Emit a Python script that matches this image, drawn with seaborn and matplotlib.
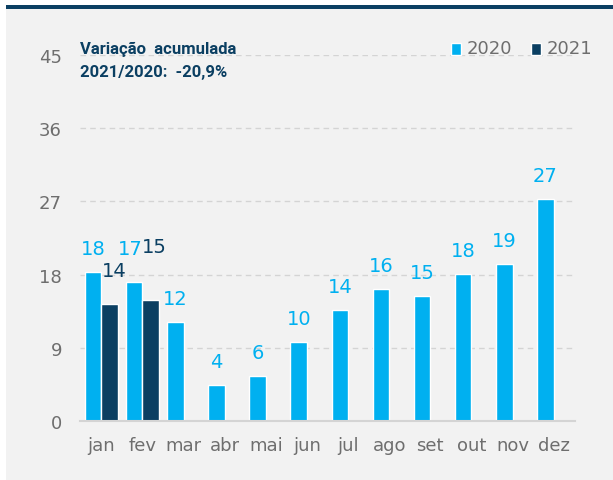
import pandas as pd
import matplotlib.pyplot as plt
import seaborn as sns
from matplotlib.patches import Rectangle

months = ["jan", "fev", "mar", "abr", "mai", "jun", "jul", "ago", "set", "out", "nov", "dez"]
values_2020 = [18.3, 17.1, 12.2, 4.4, 5.5, 9.7, 13.6, 16.2, 15.4, 18.1, 19.3, 27.3]
values_2021 = [14.4, 14.9] + [float("nan")] * 10
labels_2020 = ["18", "17", "12", "4", "6", "10", "14", "16", "15", "18", "19", "27"]
labels_2021 = ["14", "15"]
yticks = [0, 9, 18, 27, 36, 45]

C2020 = "#00b0f0"
C2021 = "#0b3f62"
GRAY = "#6e6e6e"
BG = "#f2f2f2"


def main():
    df = pd.DataFrame({
        "mes": months * 2,
        "ano": ["2020"] * 12 + ["2021"] * 12,
        "valor": values_2020 + values_2021,
    })

    sns.set_style("white")
    plt.rcParams["font.family"] = ["DejaVu Sans"]

    fig = plt.figure(figsize=(6.13, 4.81), dpi=100)
    fig.patch.set_facecolor("white")
    # painel cinza e linha escura no topo
    fig.patches.append(Rectangle((6 / 613, 0), 1, 1 - 10 / 481, transform=fig.transFigure,
                                 facecolor=BG, edgecolor="none", zorder=-2))
    fig.patches.append(Rectangle((6 / 613, 1 - 10 / 481), 1, 4 / 481, transform=fig.transFigure,
                                 facecolor="#0b3f62", edgecolor="none", zorder=-1))

    ax = fig.add_axes([80 / 613, 59 / 481, 495 / 613, 366 / 481])
    ax.set_facecolor("none")

    sns.barplot(data=df, x="mes", y="valor", hue="ano", order=months,
                hue_order=["2020", "2021"], palette=[C2020, C2021],
                width=0.8, ax=ax, legend=False, errorbar=None, saturation=1)

    # rótulos: deslocamentos extras (px) para evitar sobreposição em jan/fev
    extra_2020 = {1: 10}
    xshift_2020 = {1: -4}
    extra_2021 = {0: 10, 1: 30}
    xshift_2021 = {0: 5, 1: 4}
    c20, c21 = ax.containers[0], ax.containers[1]
    for i, bar in enumerate(c20):
        ax.annotate(labels_2020[i], (bar.get_x() + bar.get_width() / 2, bar.get_height()),
                    xytext=(xshift_2020.get(i, 0) * 0.72, (14 + extra_2020.get(i, 0)) * 0.72),
                    textcoords="offset points",
                    ha="center", va="bottom", color=C2020, fontsize=14)
    for i, lab in enumerate(labels_2021):
        bar = c21[i]
        ax.annotate(lab, (bar.get_x() + bar.get_width() / 2, bar.get_height()),
                    xytext=(xshift_2021.get(i, 0) * 0.72, (14 + extra_2021.get(i, 0)) * 0.72),
                    textcoords="offset points",
                    ha="center", va="bottom", color=C2021, fontsize=14)

    ax.set_ylim(0, 45)
    ax.set_xlim(-0.52, 11.52)
    ax.set_yticks(yticks)
    ax.yaxis.grid(True, linestyle=(0, (4, 3)), color="#d4d4d4", linewidth=1)
    ax.set_axisbelow(True)
    for s in ["top", "right", "left"]:
        ax.spines[s].set_visible(False)
    ax.spines["bottom"].set_color("#d4d4d4")
    ax.spines["bottom"].set_linewidth(1.5)
    ax.tick_params(axis="both", length=0, labelsize=13, colors=GRAY)
    ax.tick_params(axis="x", pad=11)
    ax.tick_params(axis="y", pad=13)
    ax.set_xlabel("")
    ax.set_ylabel("")

    fig.text(80 / 613, 1 - 49 / 481, "Variação  acumulada", family="Roboto",
             fontsize=12, fontweight="bold", color="#0b3f62", va="center")
    fig.text(80 / 613, 1 - 72 / 481, "2021/2020:  -20,9%", family="Roboto",
             fontsize=12, fontweight="bold", color="#0b3f62", va="center")

    # legenda
    fig.patches.append(Rectangle((451 / 613, 1 - 56 / 481), 10 / 613, 12 / 481,
                                 transform=fig.transFigure, facecolor=C2020))
    fig.text(467 / 613, 1 - 49 / 481, "2020", fontsize=13, color=GRAY, va="center")
    fig.patches.append(Rectangle((531 / 613, 1 - 56 / 481), 10 / 613, 12 / 481,
                                 transform=fig.transFigure, facecolor=C2021))
    fig.text(547 / 613, 1 - 49 / 481, "2021", fontsize=13, color=GRAY, va="center")

    fig.savefig("out.png", dpi=100, facecolor=fig.get_facecolor())
    plt.close(fig)


if __name__ == "__main__":
    main()
